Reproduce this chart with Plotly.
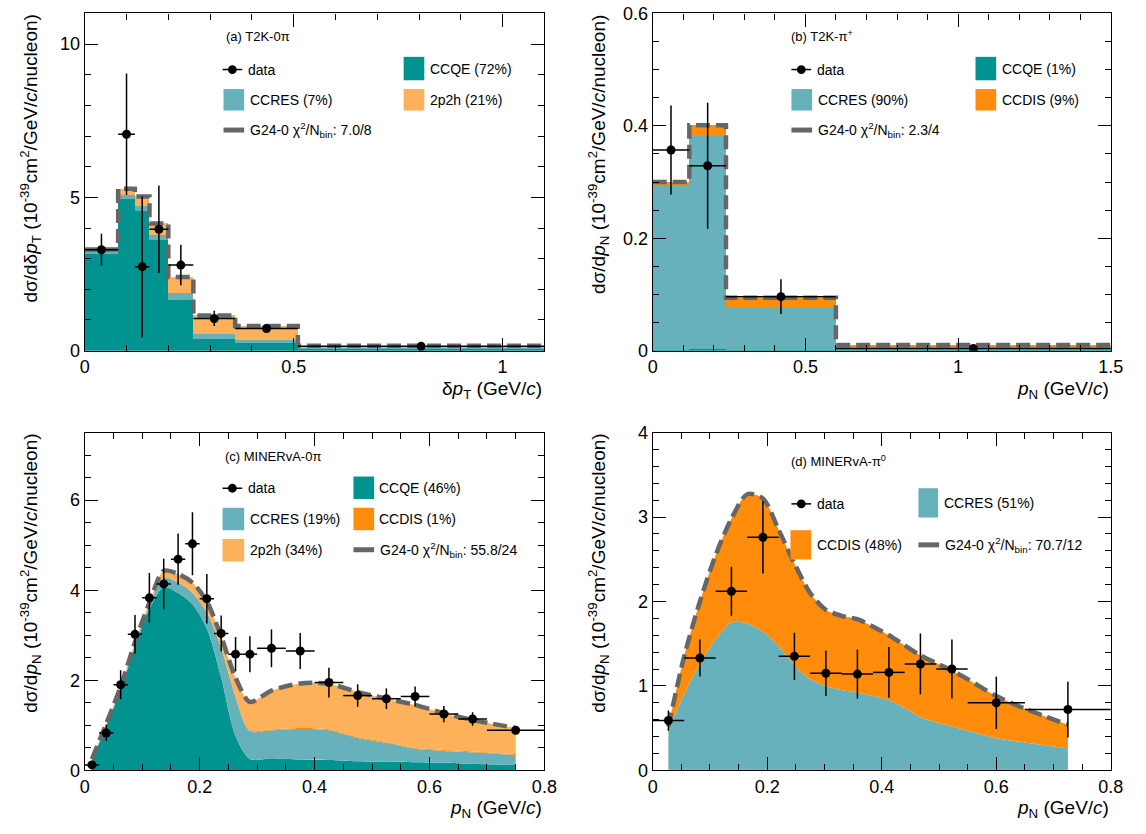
import plotly.graph_objects as go

W, H = 1146, 834

# colours of the interaction channels
C_QE = "#00938f"
C_RES = "#66b1bb"
C_2P2H = "#fdb15a"
C_DIS = "#ff8c0a"
C_TOT = "#666666"

# ---------------- (a) T2K-0pi, delta pT ----------------
a_edges = [0, 0.08, 0.12, 0.155, 0.2, 0.26, 0.36, 0.51, 1.1]
a_ccqe = [3.14, 4.94, 4.54, 3.62, 1.66, 0.37, 0.24, 0.06]
a_ccres = [0.10, 0.13, 0.19, 0.16, 0.21, 0.18, 0.11, 0.03]
a_2p2h = [0.06, 0.21, 0.30, 0.37, 0.53, 0.60, 0.45, 0.07]
a_data = [3.29, 7.06, 2.74, 3.96, 2.79, 1.05, 0.72, 0.14]
a_err = [0.52, 1.98, 2.30, 1.43, 0.66, 0.25, 0.06, 0.03]

# ---------------- (b) T2K-pi+, pN ----------------
b_edges = [0, 0.12, 0.24, 0.6, 1.5]
b_ccqe = [0.002, 0.003, 0.002, 0.001]
b_ccres = [0.293, 0.378, 0.076, 0.006]
b_ccdis = [0.005, 0.020, 0.016, 0.003]
b_data = [0.357, 0.329, 0.096, 0.004]
b_err = [0.079, 0.112, 0.031, 0.003]

# ---------------- (c) MINERvA-0pi, pN ----------------
c_edges = [0, 0.025, 0.05, 0.075, 0.1, 0.125, 0.15, 0.175, 0.2, 0.225, 0.25,
           0.275, 0.3, 0.35, 0.4, 0.45, 0.5, 0.55, 0.6, 0.65, 0.7, 0.8]
c_data = [0.12, 0.83, 1.90, 3.02, 3.83, 4.14, 4.69, 5.03, 3.81, 3.04, 2.58,
          2.58, 2.71, 2.65, 1.95, 1.66, 1.59, 1.64, 1.25, 1.14, 0.89]
c_err = [0.05, 0.18, 0.32, 0.43, 0.55, 0.56, 0.57, 0.70, 0.55, 0.40, 0.38,
         0.40, 0.42, 0.40, 0.33, 0.25, 0.23, 0.22, 0.18, 0.15, 0.09]
c_px = [0.0125, 0.0375, 0.0625, 0.0875, 0.1125, 0.1375, 0.1625, 0.1875, 0.2125,
        0.2375, 0.2625, 0.2875, 0.325, 0.375, 0.425, 0.475, 0.525, 0.575,
        0.625, 0.675, 0.75]
c_ccqe = [0.22, 0.98, 1.77, 2.75, 3.58, 4.07, 3.94, 3.69, 3.15, 2.06, 0.76,
          0.25, 0.27, 0.24, 0.23, 0.20, 0.19, 0.18, 0.17, 0.145, 0.12]
c_ccres = [0.01, 0.03, 0.05, 0.05, 0.07, 0.20, 0.23, 0.25, 0.36, 0.65, 0.87,
           0.62, 0.62, 0.68, 0.66, 0.52, 0.42, 0.30, 0.26, 0.255, 0.22]
c_ccdis = [0, 0, 0, 0, 0, 0.01, 0.01, 0.01, 0.01, 0.01, 0.01,
           0.02, 0.02, 0.02, 0.02, 0.02, 0.02, 0.02, 0.02, 0.02, 0.02]
c_2p2h = [0.02, 0.03, 0.04, 0.05, 0.07, 0.15, 0.18, 0.22, 0.23, 0.25, 0.42,
          0.63, 0.86, 0.99, 1.01, 1.00, 0.96, 0.95, 0.82, 0.70, 0.58]

# ---------------- (d) MINERvA-pi0, pN ----------------
d_edges = [0, 0.055, 0.11, 0.165, 0.22, 0.275, 0.33, 0.385, 0.44, 0.495,
           0.55, 0.65, 0.8]
d_data = [0.59, 1.33, 2.12, 2.76, 1.35, 1.15, 1.14, 1.16, 1.26, 1.20, 0.80, 0.72]
d_err = [0.12, 0.22, 0.29, 0.43, 0.28, 0.27, 0.29, 0.30, 0.36, 0.35, 0.31, 0.33]
d_px = [0.0275, 0.055, 0.0825, 0.11, 0.1375, 0.165, 0.1925, 0.22, 0.2475,
        0.275, 0.3025, 0.33, 0.3575, 0.385, 0.4125, 0.44, 0.4675, 0.495,
        0.5225, 0.55, 0.6, 0.65, 0.725]
d_ccqe = [0.01] * 23
d_ccres = [0.45, 0.89, 1.25, 1.54, 1.74, 1.73, 1.63, 1.46, 1.23, 1.07, 0.99,
           0.94, 0.91, 0.87, 0.82, 0.73, 0.62, 0.56, 0.51, 0.46, 0.37, 0.32, 0.25]
d_ccdis = [0.06, 0.45, 0.74, 1.00, 1.23, 1.53, 1.58, 1.38, 1.21, 1.02, 0.90,
           0.88, 0.87, 0.82, 0.77, 0.74, 0.73, 0.70, 0.66, 0.61, 0.50, 0.40, 0.28]

FONT = "Liberation Sans, Arial, Helvetica, sans-serif"


def X(px):
    return px / W


def Y(py):
    return 1 - py / H


fig = go.Figure()


def centers(edges):
    return [(edges[i] + edges[i + 1]) / 2 for i in range(len(edges) - 1)]


def halfw(edges):
    return [(edges[i + 1] - edges[i]) / 2 for i in range(len(edges) - 1)]


def cumsum(*parts):
    out, acc = [], [0] * len(parts[0])
    for p in parts:
        acc = [a + b for a, b in zip(acc, p)]
        out.append(acc)
    return out


def hist_stack(edges, comps, colors, xa, ya):
    lefts = edges[:-1]
    widths = [edges[i + 1] - edges[i] for i in range(len(edges) - 1)]
    for vals, col in zip(comps, colors):
        fig.add_trace(go.Bar(x=lefts, y=vals, width=widths, offset=0,
                             marker=dict(color=col, line=dict(width=0)),
                             xaxis=xa, yaxis=ya, showlegend=False,
                             hoverinfo="skip"))
    tot = cumsum(*comps)[-1]
    fig.add_trace(go.Scatter(x=edges, y=tot + [tot[-1]], mode="lines",
                             line=dict(color=C_TOT, width=4.5, shape="hv",
                                       dash="14px,6px"),
                             xaxis=xa, yaxis=ya, showlegend=False,
                             hoverinfo="skip"))


def curve_stack(xs, comps, colors, xa, ya):
    levels = cumsum(*comps)
    for i, (lv, col) in enumerate(zip(levels, colors)):
        fig.add_trace(go.Scatter(x=xs, y=lv, mode="lines",
                                 line=dict(width=0, shape="spline",
                                           smoothing=0.8),
                                 fill="tozeroy" if i == 0 else "tonexty",
                                 fillcolor=col, xaxis=xa, yaxis=ya,
                                 showlegend=False, hoverinfo="skip"))
    fig.add_trace(go.Scatter(x=xs, y=levels[-1], mode="lines",
                             line=dict(color=C_TOT, width=4.5, shape="spline",
                                       smoothing=0.8, dash="14px,6px"),
                             xaxis=xa, yaxis=ya, showlegend=False,
                             hoverinfo="skip"))


def data_points(edges, vals, errs, xa, ya):
    fig.add_trace(go.Scatter(
        x=centers(edges), y=vals, mode="markers",
        marker=dict(color="black", size=9),
        error_y=dict(type="data", array=errs, color="black", thickness=1.5,
                     width=0),
        error_x=dict(type="data", array=halfw(edges), color="black",
                     thickness=1.5, width=0),
        xaxis=xa, yaxis=ya, showlegend=False, hoverinfo="skip"))


hist_stack(a_edges, [a_ccqe, a_ccres, a_2p2h], [C_QE, C_RES, C_2P2H], "x", "y")
data_points(a_edges, a_data, a_err, "x", "y")

hist_stack(b_edges, [b_ccqe, b_ccres, b_ccdis], [C_QE, C_RES, C_DIS], "x2", "y2")
data_points(b_edges, b_data, b_err, "x2", "y2")

curve_stack(c_px, [c_ccqe, c_ccres, c_ccdis, c_2p2h],
            [C_QE, C_RES, C_DIS, C_2P2H], "x3", "y3")
data_points(c_edges, c_data, c_err, "x3", "y3")

curve_stack(d_px, [d_ccqe, d_ccres, d_ccdis], [C_QE, C_RES, C_DIS], "x4", "y4")
data_points(d_edges, d_data, d_err, "x4", "y4")

# ---------------- axes ----------------
TOP = (3.5, 349)
BOT = (433, 779)
LEFT = (81, 548)
RIGHT = (658, 1123.5)


def axis(dom, rng, dtick, mdtick, horizontal):
    if horizontal:
        domain = [X(dom[0]), X(dom[1])]
    else:
        domain = [Y(dom[1]), Y(dom[0])]
    return dict(domain=domain, range=rng, dtick=dtick, tick0=0,
                ticks="inside", ticklen=13, tickwidth=1, tickcolor="black",
                minor=dict(dtick=mdtick, tick0=0, ticks="inside", ticklen=6,
                           tickwidth=1, tickcolor="black"),
                showline=True, linecolor="black", linewidth=1.2,
                mirror="allticks", showgrid=False, zeroline=False,
                tickfont=dict(family=FONT, size=18, color="black"),
                fixedrange=True)


layout_axes = dict(
    xaxis=dict(axis(LEFT, [0, 1.1], 0.5, 0.1, True), anchor="y"),
    yaxis=dict(axis(TOP, [0, 11], 5, 1, False), anchor="x"),
    xaxis2=dict(axis(RIGHT, [0, 1.5], 0.5, 0.1, True), anchor="y2"),
    yaxis2=dict(axis(TOP, [0, 0.6], 0.2, 0.05, False), anchor="x2"),
    xaxis3=dict(axis(LEFT, [0, 0.8], 0.2, 0.05, True), anchor="y3"),
    yaxis3=dict(axis(BOT, [0, 7.5], 2, 0.5, False), anchor="x3"),
    xaxis4=dict(axis(RIGHT, [0, 0.8], 0.2, 0.05, True), anchor="y4"),
    yaxis4=dict(axis(BOT, [0, 4], 1, 0.2, False), anchor="x4"),
)

ann = []
shapes = []


def text(x, y, s, size=14, xanchor="left", angle=0, yanchor="middle"):
    ann.append(dict(x=X(x), y=Y(y), xref="paper", yref="paper", text=s,
                    showarrow=False, xanchor=xanchor, yanchor=yanchor,
                    textangle=angle,
                    font=dict(family=FONT, size=size, color="black")))


def box(x0, x1, y0, y1, col):
    shapes.append(dict(type="rect", xref="paper", yref="paper",
                       x0=X(x0), x1=X(x1), y0=Y(y1), y1=Y(y0),
                       fillcolor=col, line=dict(width=0)))


def hline(x0, x1, y, col, w):
    shapes.append(dict(type="line", xref="paper", yref="paper",
                       x0=X(x0), x1=X(x1), y0=Y(y), y1=Y(y),
                       line=dict(color=col, width=w)))


def dot(cx, cy, r=4.5):
    shapes.append(dict(type="circle", xref="paper", yref="paper",
                       x0=X(cx - r), x1=X(cx + r), y0=Y(cy + r), y1=Y(cy - r),
                       fillcolor="black", line=dict(width=0)))


def data_entry(x0, y):
    hline(x0, x0 + 20, y, "black", 1.5)
    dot(x0 + 10, y)
    text(x0 + 24, y, "data")


def g24_entry(x0, y, chi):
    hline(x0, x0 + 21, y, C_TOT, 5)
    text(x0 + 25, y, "G24-0 χ<sup>2</sup>/N<sub>bin</sub>: " + chi)


# axis titles
YT_A = "dσ/dδ<i>p</i><sub>T</sub> (10<sup>-39</sup>cm<sup>2</sup>/GeV/<i>c</i>/nucleon)"
YT_N = "dσ/d<i>p</i><sub>N</sub> (10<sup>-39</sup>cm<sup>2</sup>/GeV/<i>c</i>/nucleon)"
XT_A = "δ<i>p</i><sub>T</sub> (GeV/<i>c</i>)"
XT_N = "<i>p</i><sub>N</sub> (GeV/<i>c</i>)"

text(26, 3, YT_A, size=19, xanchor="center", angle=-90, yanchor="top")
text(603, 3, YT_N, size=19, xanchor="center", angle=-90, yanchor="top")
text(26, 432, YT_N, size=19, xanchor="center", angle=-90, yanchor="top")
text(603, 432, YT_N, size=19, xanchor="center", angle=-90, yanchor="top")
text(548, 389, XT_A, size=19, xanchor="right")
text(1124, 389, XT_N, size=19, xanchor="right")
text(548, 819, XT_N, size=19, xanchor="right")
text(1124, 819, XT_N, size=19, xanchor="right")

# legend (a)
text(222, 27, "(a) T2K-0π", size=13)
data_entry(221, 61)
box(405, 426, 48, 72, C_QE)
text(430, 60, "CCQE (72%)")
box(222, 243, 81, 103, C_RES)
text(247, 92, "CCRES (7%)")
box(405, 426, 81, 103, C_2P2H)
text(430, 92, "2p2h (21%)")
g24_entry(222, 123, "7.0/8")

# legend (b)
text(797, 27, "(b) T2K-π<sup>+</sup>", size=13)
data_entry(799, 61)
box(986, 1007, 48, 72, C_QE)
text(1011, 60, "CCQE (1%)")
box(799, 820, 81, 103, C_RES)
text(824, 92, "CCRES (90%)")
box(986, 1007, 81, 103, C_DIS)
text(1011, 92, "CCDIS (9%)")
g24_entry(799, 123, "2.3/4")

# legend (c)
text(221, 457, "(c) MINERvA-0π", size=13)
data_entry(221, 490)
box(354, 375, 478, 501, C_QE)
text(378, 490, "CCQE (46%)")
box(221, 243, 510, 533, C_RES)
text(247, 521, "CCRES (19%)")
box(354, 375, 510, 533, C_DIS)
text(378, 521, "CCDIS (1%)")
box(221, 243, 542, 565, C_2P2H)
text(247, 553, "2p2h (34%)")
g24_entry(354, 553, "55.8/24")

# legend (d)
text(797, 462, "(d) MINERvA-π<sup>0</sup>", size=13)
data_entry(799, 506)
box(928, 948, 490, 520, C_RES)
text(952, 505, "CCRES (51%)")
box(798, 819, 533, 563, C_DIS)
text(823, 548, "CCDIS (48%)")
g24_entry(928, 548, "70.7/12")

fig.update_layout(
    width=W, height=H,
    margin=dict(l=0, r=0, t=0, b=0),
    paper_bgcolor="white", plot_bgcolor="white",
    barmode="stack",
    showlegend=False,
    annotations=ann, shapes=shapes,
    font=dict(family=FONT, color="black"),
    **layout_axes,
)

fig.write_html("out.html")
